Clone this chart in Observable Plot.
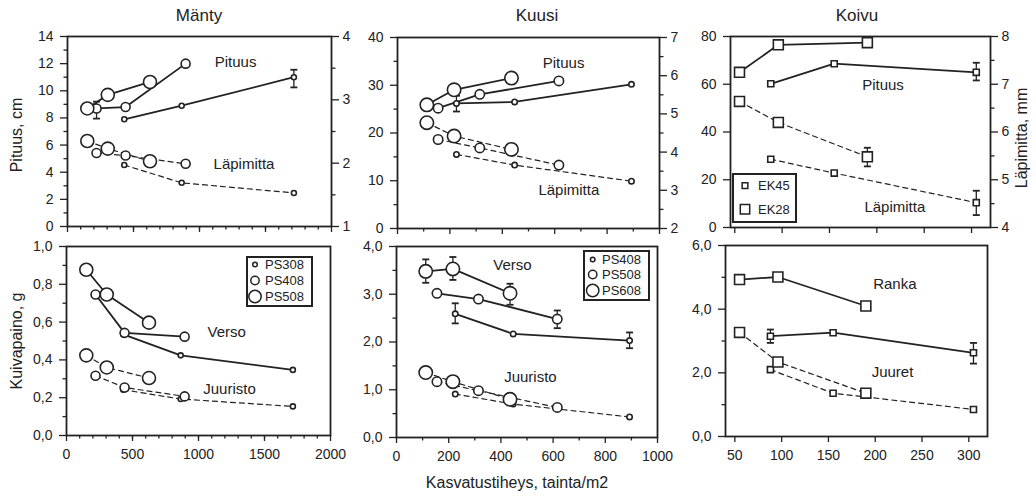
<!DOCTYPE html>
<html><head><meta charset="utf-8">
<script src="https://cdn.jsdelivr.net/npm/d3@7"></script>
<script src="https://cdn.jsdelivr.net/npm/@observablehq/plot@0.6"></script>
<style>
html,body{margin:0;padding:0;background:#fff;}
#root{position:relative;width:1036px;height:496px;overflow:hidden;font-family:"Liberation Sans",Arial,Helvetica,sans-serif;color:#222;background:#fff;}
#root svg{position:absolute;overflow:visible;}
.t{position:absolute;white-space:nowrap;line-height:1;}
.legend{position:absolute;border:2px solid #222;background:#fff;box-sizing:border-box;}
</style></head>
<body><div id="root"></div>
<script>
// ---------------- data ----------------
// Mänty (pine)
const mantySeries = ["PS308", "PS408", "PS508"];
const mantyX = [[430, 865, 1715], [220, 440, 895], [150, 305, 625]];
const mantyPituus = [[7.9, 8.9, 11.0], [8.7, 8.8, 12.0], [8.7, 9.7, 10.65]];
const mantyLapimitta = [[1.97, 1.69, 1.53], [2.16, 2.12, 1.99], [2.35, 2.23, 2.03]];
const mantyVerso = [[0.535, 0.424, 0.347], [0.746, 0.543, 0.523], [0.877, 0.746, 0.597]];
const mantyJuuristo = [[0.242, 0.193, 0.154], [0.316, 0.254, 0.207], [0.424, 0.36, 0.304]];
const mantyPituusErr = [[0, 2, 10.25, 11.55], [1, 0, 7.95, 9.2]];

// Kuusi (spruce)
const kuusiSeries = ["PS408", "PS508", "PS608"];
const kuusiX = [[225, 447, 893], [155, 314, 616], [112, 216, 435]];
const kuusiPituus = [[26.2, 26.5, 30.2], [25.2, 28.1, 30.9], [25.9, 29.05, 31.5]];
const kuusiLapimitta = [[3.94, 3.66, 3.24], [4.33, 4.11, 3.66], [4.77, 4.42, 4.07]];
const kuusiVerso = [[2.59, 2.17, 2.03], [3.02, 2.90, 2.48], [3.48, 3.53, 3.02]];
const kuusiJuuristo = [[0.91, 0.70, 0.43], [1.17, 0.98, 0.63], [1.36, 1.17, 0.80]];
const kuusiPituusErr = [[0, 0, 24.5, 27.8]];
const kuusiVersoErr = [[2, 0, 3.24, 3.73], [2, 1, 3.30, 3.78], [2, 2, 2.78, 3.22], [1, 2, 2.29, 2.66], [0, 0, 2.39, 2.81], [0, 2, 1.87, 2.2]];

// Koivu (birch)
const koivuSeries = ["EK45", "EK28"];
const koivuX = [[88, 155, 305], [55, 96, 190]];
const koivuPituus = [[60.2, 68.6, 65.0], [65.0, 76.5, 77.4]];
const koivuLapimitta = [[5.43, 5.14, 4.52], [6.64, 6.20, 5.48]];
const koivuRanka = [[3.15, 3.26, 2.63], [4.93, 5.01, 4.10]];
const koivuJuuret = [[2.10, 1.36, 0.85], [3.27, 2.34, 1.36]];
const koivuPituusErr = [[0, 2, 61.6, 69.0]];
const koivuLapimittaErr = [[1, 2, 5.28, 5.67], [0, 2, 4.26, 4.77]];
const koivuRankaErr = [[0, 0, 2.94, 3.36], [0, 2, 2.29, 2.94]];

// ticks
const mantyXTicks = [0, 500, 1000, 1500, 2000];
const kuusiXTicks = [0, 200, 400, 600, 800, 1000];
const koivuXTicks = [50, 100, 150, 200, 250, 300];
const mantyPituusTicks = [0, 2, 4, 6, 8, 10, 12, 14];
const mantyLapTicks = [1, 2, 3, 4];
const mantyPainoTicks = [0, 0.2, 0.4, 0.6, 0.8, 1.0];
const kuusiPituusTicks = [0, 10, 20, 30, 40];
const kuusiLapTicks = [2, 3, 4, 5, 6, 7];
const kuusiPainoTicks = [0, 1, 2, 3, 4];
const koivuPituusTicks = [0, 20, 40, 60, 80];
const koivuLapTicks = [4, 5, 6, 7, 8];
const koivuPainoTicks = [0, 2, 4, 6];

// text annotations (data coordinates of each panel)
const mantyTopNotes = [{label: "Pituus", x: 1273, y: 12.1}, {label: "Läpimitta", x: 1337, y: 4.57}];
const mantyBottomNotes = [{label: "Verso", x: 1214, y: 0.546}, {label: "Juuristo", x: 1235, y: 0.246}];
const kuusiTopNotes = [{label: "Pituus", x: 634, y: 34.7}, {label: "Läpimitta", x: 654, y: 8.0}];
const kuusiBottomNotes = [{label: "Verso", x: 444, y: 3.60}, {label: "Juuristo", x: 513, y: 1.26}];
const koivuTopNotes = [{label: "Pituus", x: 206.5, y: 59.5}, {label: "Läpimitta", x: 219, y: 8.7}];
const koivuBottomNotes = [{label: "Ranka", x: 221, y: 4.77}, {label: "Juuret", x: 218.5, y: 2.02}];

// ---------------- drawing ----------------
const C = "#222";
const FONT = "'Liberation Sans', Arial, Helvetica, sans-serif";
const ML = 60, MR = 60, MT = 20, MB = 40;
const root = document.getElementById("root");
const capSymbol = {draw(ctx, size) { const r = Math.sqrt(size / Math.PI); ctx.moveTo(-r, 0); ctx.lineTo(r, 0); }};
const fmtComma = d => d.toFixed(1).replace(".", ",");
const plain = d => String(d);
const blank = () => "";

function toRows(series, xs, ys) {
  return series.flatMap((s, i) => xs[i].map((x, j) => ({s, i, x, y: ys[i][j]})));
}
function toErr(xs, errs) {
  return errs.map(([i, j, lo, hi]) => ({x: xs[i][j], lo, hi}));
}
function seriesMarks(rows, radii, symbol, dashed, errs) {
  const lineOpts = {x: "x", y: "y", z: "s", stroke: C, strokeWidth: dashed ? 1.2 : 1.8};
  if (dashed) lineOpts.strokeDasharray = "5,4";
  const m = [Plot.line(rows, lineOpts)];
  if (errs && errs.length) {
    m.push(Plot.ruleX(errs, {x: "x", y1: "lo", y2: "hi", stroke: C, strokeWidth: 1.3}));
    m.push(Plot.dot(errs.flatMap(d => [{x: d.x, y: d.lo}, {x: d.x, y: d.hi}]),
      {x: "x", y: "y", symbol: capSymbol, r: 3.5, fill: "none", stroke: C, strokeWidth: 1.8}));
  }
  radii.forEach((r, i) => m.push(Plot.dot(rows.filter(d => d.i === i),
    {x: "x", y: "y", r, symbol, fill: "white", stroke: C, strokeWidth: 1.6})));
  return m;
}
function notes(arr) {
  return Plot.text(arr, {x: "x", y: "y", text: "label", fontSize: 15, fill: C});
}
function panel(o) {
  const marks = [];
  const anchor = o.anchor || "left";
  marks.push(Plot.axisY({anchor, ticks: o.yTicks, tickSize: 7, tickPadding: anchor === "left" ? 7 : 4,
    tickFormat: o.yFmt || plain, label: null, strokeWidth: 1.3}));
  if (o.yMinor) marks.push(Plot.axisY({anchor, ticks: o.yMinor, tickSize: 3.5, tickFormat: blank, label: null, strokeWidth: 1.3}));
  if (o.xTicks) {
    marks.push(Plot.axisX({anchor: "bottom", ticks: o.xTicks, tickSize: 6, tickPadding: 8,
      tickFormat: o.xLabels ? plain : blank, label: null, strokeWidth: 1.3}));
    if (o.xMinor) marks.push(Plot.axisX({anchor: "bottom", ticks: o.xMinor, tickSize: 3.5, tickFormat: blank, label: null, strokeWidth: 1.3}));
  }
  if (o.frame) marks.push(Plot.frame({stroke: C, strokeWidth: 1.8}));
  marks.push(...o.marks);
  const svg = Plot.plot({
    width: o.w + ML + MR, height: o.h + MT + MB,
    marginLeft: ML, marginRight: MR, marginTop: MT, marginBottom: MB,
    x: {domain: o.xDomain, axis: null}, y: {domain: o.yDomain, axis: null},
    style: {background: "transparent", color: C, fontFamily: FONT, fontSize: "14px", overflow: "visible"},
    marks
  });
  svg.style.left = (o.left - ML) + "px";
  svg.style.top = (o.top - MT) + "px";
  root.appendChild(svg);
}
function label(text, cx, cy, size, rot = 0) {
  const d = document.createElement("div");
  d.className = "t";
  d.textContent = text;
  d.style.left = cx + "px"; d.style.top = cy + "px"; d.style.fontSize = size + "px";
  d.style.transform = `translate(-50%,-50%) rotate(${rot}deg)`;
  root.appendChild(d);
}
function legend(box, entries, symbolType) {
  const div = document.createElement("div");
  div.className = "legend";
  div.style.left = box[0] + "px"; div.style.top = box[1] + "px";
  div.style.width = box[2] + "px"; div.style.height = box[3] + "px";
  const svg = d3.create("svg").attr("width", box[2]).attr("height", box[3]).style("left", "-2px").style("top", "-2px");
  for (const e of entries) {
    svg.append("path").attr("transform", `translate(${e.sx},${e.y})`)
      .attr("d", d3.symbol(symbolType, Math.PI * e.r * e.r)())
      .attr("fill", "white").attr("stroke", C).attr("stroke-width", 1.5);
    svg.append("text").attr("x", e.tx).attr("y", e.y).attr("dy", "0.36em")
      .attr("font-size", 13).attr("font-family", FONT).attr("fill", C).text(e.label);
  }
  div.appendChild(svg.node());
  root.appendChild(div);
}

const circleR = [2.5, 4.5, 6.5];
const squareR = [3.4, 5.6];

// ---- Mänty ----
const mTop = {left: 67, top: 36, w: 264, h: 190, xDomain: [0, 2000]};
panel({...mTop, yDomain: [0, 14], yTicks: mantyPituusTicks, yMinor: d3.range(1, 14, 2),
  xTicks: mantyXTicks, xMinor: d3.range(100, 2000, 100), frame: true,
  marks: [...seriesMarks(toRows(mantySeries, mantyX, mantyPituus), circleR, "circle", false, toErr(mantyX, mantyPituusErr)),
          notes(mantyTopNotes)]});
panel({...mTop, yDomain: [1, 4], anchor: "right", yTicks: mantyLapTicks, yMinor: [1.5, 2.5, 3.5],
  marks: seriesMarks(toRows(mantySeries, mantyX, mantyLapimitta), circleR, "circle", true)});
panel({left: 66, top: 246, w: 264, h: 189, xDomain: [0, 2000], yDomain: [0, 1],
  yTicks: mantyPainoTicks, yFmt: fmtComma, yMinor: d3.range(0.1, 1, 0.2),
  xTicks: mantyXTicks, xMinor: d3.range(100, 2000, 100), xLabels: true, frame: true,
  marks: [...seriesMarks(toRows(mantySeries, mantyX, mantyJuuristo), circleR, "circle", true),
          ...seriesMarks(toRows(mantySeries, mantyX, mantyVerso), circleR, "circle", false),
          notes(mantyBottomNotes)]});

// ---- Kuusi ----
const kTop = {left: 397, top: 37, w: 262, h: 191, xDomain: [0, 1000]};
panel({...kTop, yDomain: [0, 40], yTicks: kuusiPituusTicks, yMinor: [5, 15, 25, 35],
  xTicks: kuusiXTicks, xMinor: d3.range(100, 1000, 200), frame: true,
  marks: [...seriesMarks(toRows(kuusiSeries, kuusiX, kuusiPituus), circleR.map(r => r + 0.2), "circle", false, toErr(kuusiX, kuusiPituusErr)),
          notes(kuusiTopNotes)]});
panel({...kTop, yDomain: [2, 7], anchor: "right", yTicks: kuusiLapTicks, yMinor: [2.5, 3.5, 4.5, 5.5, 6.5],
  marks: seriesMarks(toRows(kuusiSeries, kuusiX, kuusiLapimitta), circleR.map(r => r + 0.2), "circle", true)});
panel({left: 396, top: 246, w: 261, h: 191, xDomain: [0, 1000], yDomain: [0, 4],
  yTicks: kuusiPainoTicks, yFmt: fmtComma, yMinor: [0.5, 1.5, 2.5, 3.5],
  xTicks: kuusiXTicks, xMinor: d3.range(100, 1000, 200), xLabels: true, frame: true,
  marks: [...seriesMarks(toRows(kuusiSeries, kuusiX, kuusiJuuristo), circleR.map(r => r + 0.2), "circle", true),
          ...seriesMarks(toRows(kuusiSeries, kuusiX, kuusiVerso), circleR.map(r => r + 0.2), "circle", false, toErr(kuusiX, kuusiVersoErr)),
          notes(kuusiBottomNotes)]});

// ---- Koivu ----
const bTop = {left: 730, top: 36, w: 260, h: 191, xDomain: [45.5, 320]};
panel({...bTop, yDomain: [0, 80], yTicks: koivuPituusTicks,
  xTicks: koivuXTicks, frame: true,
  marks: [...seriesMarks(toRows(koivuSeries, koivuX, koivuPituus), squareR, "square", false, toErr(koivuX, koivuPituusErr)),
          notes(koivuTopNotes)]});
panel({...bTop, yDomain: [4, 8], anchor: "right", yTicks: koivuLapTicks, yMinor: [4.5, 5.5, 6.5, 7.5],
  marks: seriesMarks(toRows(koivuSeries, koivuX, koivuLapimitta), squareR, "square", true, toErr(koivuX, koivuLapimittaErr))});
panel({left: 725, top: 245, w: 262, h: 191, xDomain: [40, 320], yDomain: [0, 6],
  yTicks: koivuPainoTicks, yFmt: fmtComma, yMinor: [1, 3, 5],
  xTicks: koivuXTicks, xLabels: true, frame: true,
  marks: [...seriesMarks(toRows(koivuSeries, koivuX, koivuJuuret), squareR, "square", true),
          ...seriesMarks(toRows(koivuSeries, koivuX, koivuRanka), squareR, "square", false, toErr(koivuX, koivuRankaErr)),
          notes(koivuBottomNotes)]});

// ---- legends ----
legend([246, 256, 67, 51], mantySeries.map((s, i) => ({label: s, r: [2.3, 4.2, 6.2][i], sx: 9, tx: 19, y: [8.5, 24.5, 40.5][i]})), d3.symbolCircle);
legend([583, 250, 67, 51], kuusiSeries.map((s, i) => ({label: s, r: [2.3, 4.2, 6.2][i], sx: 9.7, tx: 19, y: [9.5, 24.5, 40.5][i]})), d3.symbolCircle);
legend([732, 173, 65, 50], koivuSeries.map((s, i) => ({label: s, r: [3.2, 5.3][i], sx: 13, tx: 26, y: [12.7, 36.3][i]})), d3.symbolSquare);

// ---- titles and axis labels ----
label("Mänty", 199, 15, 17);
label("Kuusi", 537, 15, 17);
label("Koivu", 857, 15, 17);
label("Pituus, cm", 17, 135, 16, -90);
label("Kuivapaino, g", 17, 341, 16, -90);
label("Läpimitta, mm", 1022, 138, 16, -90);
label("Kasvatustiheys, tainta/m2", 517, 483, 16);
</script>
</body></html>
